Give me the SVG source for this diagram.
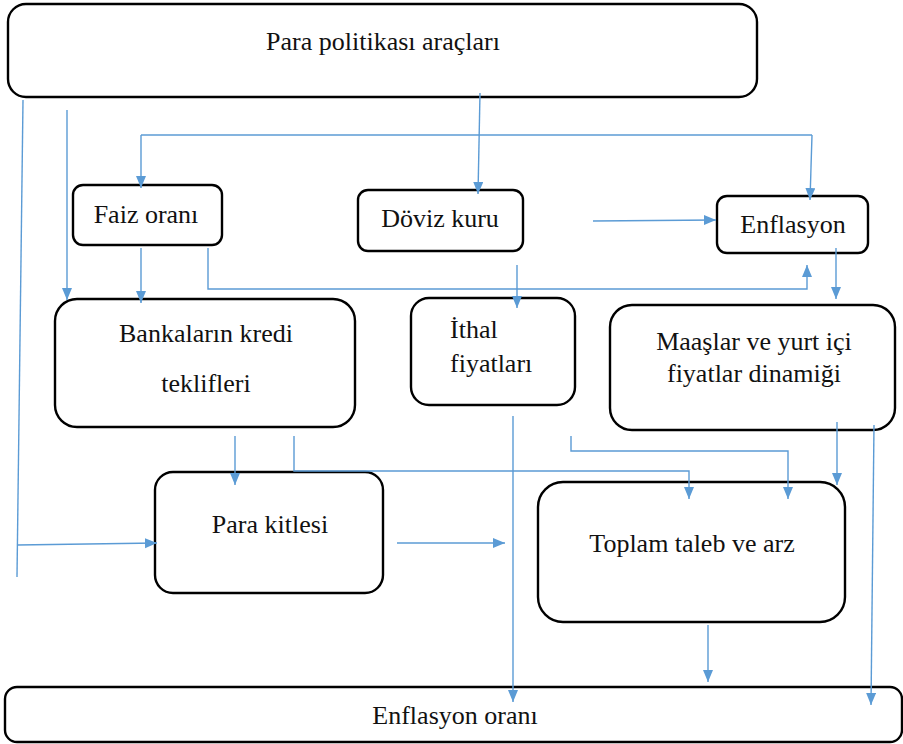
<svg xmlns="http://www.w3.org/2000/svg" width="903" height="744" viewBox="0 0 903 744">
<style>
.box{fill:#fff;stroke:#000;stroke-width:2.4}
.t{font-family:'Liberation Serif','Times New Roman','DejaVu Serif',serif;font-size:26px;fill:#111}
.c{fill:none;stroke:#5B9BD5;stroke-width:1.4}
</style>
<defs>
<marker id="ah" markerUnits="userSpaceOnUse" markerWidth="13" markerHeight="11" refX="12" refY="5" orient="auto">
<path d="M0,0 L12,5 L0,10 z" fill="#5B9BD5"/>
</marker>
</defs>
<rect width="903" height="744" fill="#fff"/>
<g id="nodes" font-family="Liberation Serif, serif">
<g id="n-para-politikasi"><rect class="box" x="8" y="4" width="749" height="93" rx="18"/><text class="t" x="383" y="50" text-anchor="middle">Para politikası araçları</text></g>
<g id="n-faiz"><rect class="box" x="73" y="185" width="149" height="60" rx="10"/><text class="t" x="146" y="223" text-anchor="middle">Faiz oranı</text></g>
<g id="n-doviz"><rect class="box" x="358" y="190" width="165" height="61" rx="10"/><text class="t" x="440" y="227" text-anchor="middle">Döviz kuru</text></g>
<g id="n-enflasyon"><rect class="box" x="717" y="196" width="151" height="57" rx="10"/><text class="t" x="793" y="233" text-anchor="middle">Enflasyon</text></g>
<g id="n-bankalar"><rect class="box" x="55" y="299" width="300" height="128" rx="22"/><text class="t" x="206" y="342" text-anchor="middle">Bankaların kredi</text><text class="t" x="206" y="392" text-anchor="middle">teklifleri</text></g>
<g id="n-ithal"><rect class="box" x="411" y="298" width="164" height="107" rx="18"/><text class="t" x="450" y="338">İthal</text><text class="t" x="450" y="372">fiyatları</text></g>
<g id="n-maaslar"><rect class="box" x="610" y="305" width="285" height="125" rx="22"/><text class="t" x="754" y="350" text-anchor="middle">Maaşlar ve yurt içi</text><text class="t" x="754" y="382" text-anchor="middle">fiyatlar dinamiği</text></g>
<g id="n-para-kitlesi"><rect class="box" x="155" y="472" width="228" height="121" rx="18"/><text class="t" x="270" y="533" text-anchor="middle">Para kitlesi</text></g>
<g id="n-toplam"><rect class="box" x="538" y="482" width="307" height="140" rx="25"/><text class="t" x="692" y="552" text-anchor="middle">Toplam taleb ve arz</text></g>
<g id="n-enflasyon-orani"><rect class="box" x="5" y="687" width="897" height="55" rx="12"/><text class="t" x="455" y="724" text-anchor="middle">Enflasyon oranı</text></g>
</g>
<g id="connectors">
<path class="c" d="M23,100 L17,577"/>
<path class="c" d="M17,545 L157,543" marker-end="url(#ah)"/>
<path class="c" d="M67,110 L67,300" marker-end="url(#ah)"/>
<path class="c" d="M141,135 L812,135"/>
<path class="c" d="M141,135 L141,188" marker-end="url(#ah)"/>
<path class="c" d="M812,135 L810,200" marker-end="url(#ah)"/>
<path class="c" d="M480,93 L478,194" marker-end="url(#ah)"/>
<path class="c" d="M141,248 L141,303" marker-end="url(#ah)"/>
<path class="c" d="M208,248 L208,289 L807,289 L807,265" marker-end="url(#ah)"/>
<path class="c" d="M517,265 L517,308" marker-end="url(#ah)"/>
<path class="c" d="M593,221 L716,220" marker-end="url(#ah)"/>
<path class="c" d="M836,248 L836,299" marker-end="url(#ah)"/>
<path class="c" d="M235,436 L235,485" marker-end="url(#ah)"/>
<path class="c" d="M294,436 L294,471 L689,471 L689,499" marker-end="url(#ah)"/>
<path class="c" d="M571,436 L571,451 L788,451 L788,499" marker-end="url(#ah)"/>
<path class="c" d="M837,422 L837,485" marker-end="url(#ah)"/>
<path class="c" d="M874,425 L871,705" marker-end="url(#ah)"/>
<path class="c" d="M513,416 L513,702" marker-end="url(#ah)"/>
<path class="c" d="M397,543 L505,543" marker-end="url(#ah)"/>
<path class="c" d="M708,625 L708,682" marker-end="url(#ah)"/>
</g>
</svg>
